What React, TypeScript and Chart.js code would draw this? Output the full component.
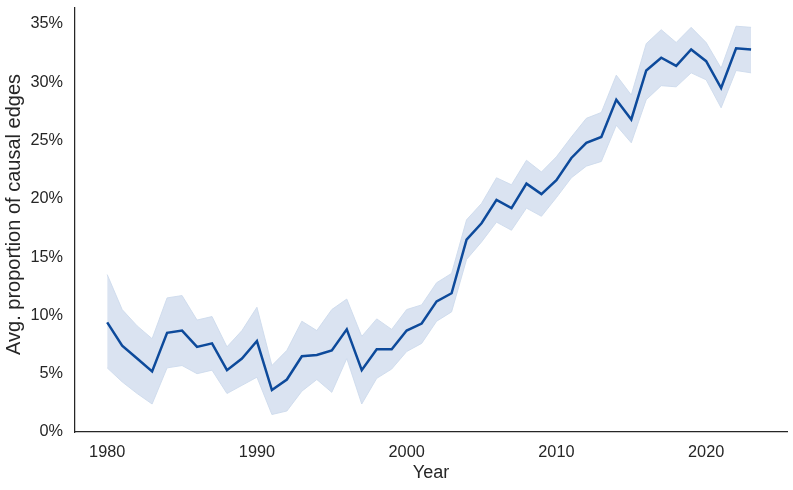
import React, { useEffect, useRef } from "react";
import { Chart, registerables } from "chart.js";
Chart.register(...registerables);

const years = [
  1980, 1981, 1982, 1983, 1984, 1985, 1986, 1987, 1988, 1989,
  1990, 1991, 1992, 1993, 1994, 1995, 1996, 1997, 1998, 1999,
  2000, 2001, 2002, 2003, 2004, 2005, 2006, 2007, 2008, 2009,
  2010, 2011, 2012, 2013, 2014, 2015, 2016, 2017, 2018, 2019,
  2020, 2021, 2022, 2023,
];

const meanPct = [
  9.4, 7.4, 6.3, 5.2, 8.5, 8.7, 7.3, 7.6, 5.3, 6.3,
  7.8, 3.6, 4.5, 6.5, 6.6, 7.0, 8.8, 5.3, 7.1, 7.1,
  8.7, 9.3, 11.2, 11.9, 16.5, 17.9, 19.9, 19.2, 21.3, 20.4,
  21.6, 23.5, 24.8, 25.3, 28.5, 26.8, 31.0, 32.1, 31.4, 32.8,
  31.8, 29.5, 32.9, 32.8,
];

const upperPct = [
  13.5, 10.5, 9.1, 8.0, 11.5, 11.7, 9.6, 9.9, 7.3, 8.7,
  10.7, 5.7, 7.0, 9.5, 8.7, 10.5, 11.4, 8.2, 9.7, 8.8,
  10.5, 10.9, 12.8, 13.6, 18.2, 19.6, 21.8, 21.2, 23.3, 22.3,
  23.6, 25.3, 26.9, 27.4, 30.6, 28.9, 33.3, 34.5, 33.4, 34.7,
  33.4, 31.2, 34.8, 34.7,
];

const lowerPct = [
  5.5, 4.3, 3.3, 2.4, 5.5, 5.7, 5.0, 5.3, 3.3, 4.0,
  4.7, 1.5, 1.8, 3.5, 4.5, 3.4, 6.3, 2.4, 4.6, 5.4,
  6.9, 7.6, 9.5, 10.3, 14.8, 16.3, 18.0, 17.3, 19.2, 18.5,
  20.1, 21.8, 22.8, 23.2, 26.3, 24.8, 28.5, 29.7, 29.6, 30.8,
  30.2, 27.8, 31.0, 30.8,
];

const xTicks = [1980, 1990, 2000, 2010, 2020];
const yTicks = [0, 5, 10, 15, 20, 25, 30, 35];

const LINE = "#0d4a9b";
const BAND = "rgba(205,218,236,0.75)";
const BAND_EDGE = "rgba(205,218,236,0.9)";
const INK = "#262626";
const FONT = "'Liberation Sans', Arial, sans-serif";

export default function App() {
  const ref = useRef<HTMLCanvasElement>(null);
  useEffect(() => {
    document.body.style.margin = "0";
    const pts = (arr: number[]) => years.map((y, i) => ({ x: y, y: arr[i] }));
    const chart = new Chart(ref.current!, {
      type: "line",
      data: {
        datasets: [
          { label: "lower", data: pts(lowerPct), borderColor: BAND_EDGE, borderWidth: 1, pointRadius: 0, fill: false, tension: 0, order: 2 },
          { label: "upper", data: pts(upperPct), borderColor: BAND_EDGE, borderWidth: 1, pointRadius: 0, fill: "-1", backgroundColor: BAND, tension: 0, order: 2 },
          { label: "mean", data: pts(meanPct), borderColor: LINE, borderWidth: 2.5, pointRadius: 0, fill: false, tension: 0, order: 0 },
        ],
      },
      options: {
        responsive: false,
        animation: false,
        events: [],
        layout: { padding: { top: 8, right: 6, left: 0, bottom: 0 } },
        plugins: { legend: { display: false }, tooltip: { enabled: false } },
        scales: {
          x: {
            type: "linear",
            min: 1977.85,
            max: 2025.4,
            grid: { display: false, drawTicks: false },
            border: { display: true, color: INK, width: 1.25 },
            afterBuildTicks: (s: any) => { s.ticks = xTicks.map((v) => ({ value: v })); },
            afterFit: (s: any) => { s.height = 58; s.paddingLeft = 0; s.paddingRight = 0; },
            ticks: { color: INK, font: { family: FONT, size: 16.3 }, padding: 11, callback: (v: any) => String(v), maxRotation: 0 },
            title: { display: true, text: "Year", color: INK, font: { family: FONT, size: 18 }, padding: { top: 0, bottom: 6 } },
          },
          y: {
            min: 0,
            max: 36.36,
            grid: { display: false, drawTicks: false },
            border: { display: true, color: INK, width: 1.25 },
            afterBuildTicks: (s: any) => { s.ticks = yTicks.map((v) => ({ value: v })); },
            afterFit: (s: any) => { s.width = 75; s.paddingTop = 0; s.paddingBottom = 0; },
            ticks: { color: INK, font: { family: FONT, size: 16.3 }, padding: 12, callback: (v: any) => v + "%" },
            title: { display: true, text: "  Avg. proportion of causal edges", color: INK, font: { family: FONT, size: 20 }, padding: { top: 2, bottom: 0 } },
          },
        },
      },
    });
    return () => chart.destroy();
  }, []);
  return (
    <div style={{ position: "absolute", left: 0, top: 0, width: 793, height: 490, background: "#fff" }}>
      <canvas ref={ref} width={793} height={490} />
    </div>
  );
}
